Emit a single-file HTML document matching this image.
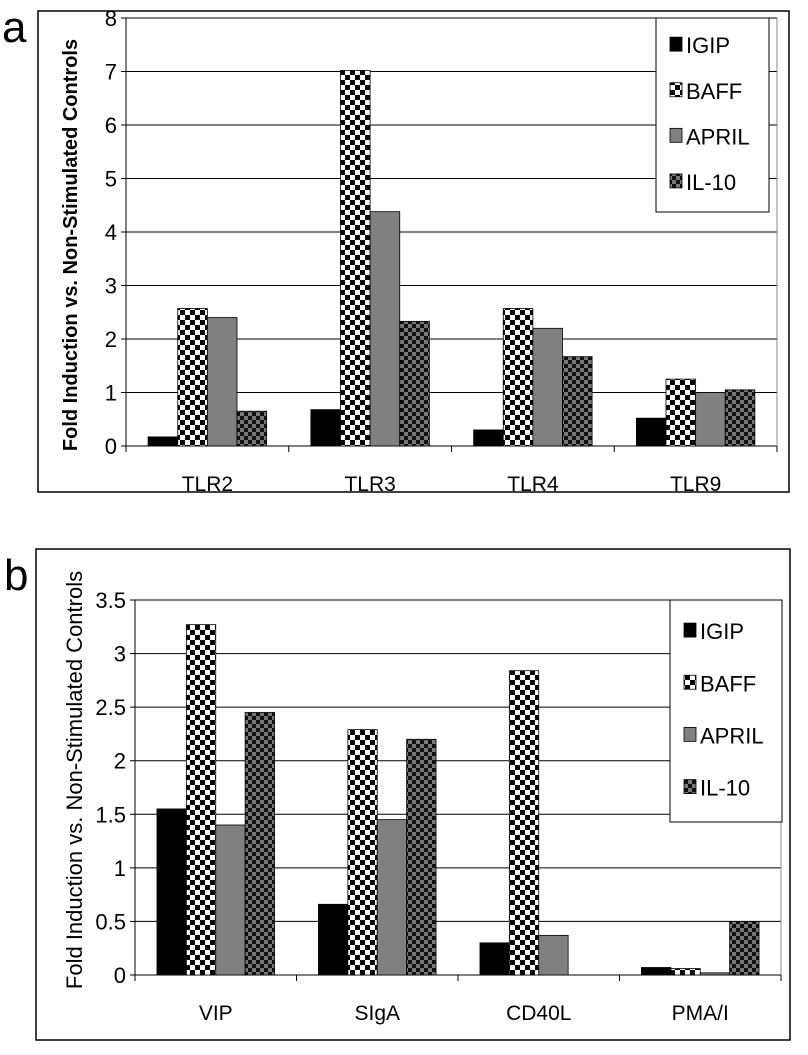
<!DOCTYPE html>
<html><head><meta charset="utf-8"><style>
body{margin:0;background:#fff;}
svg text{font-family:"Liberation Sans",Arial,sans-serif;fill:#000;}
</style></head><body>
<svg id="fig" width="808" height="1050" xmlns="http://www.w3.org/2000/svg">
<defs>
<pattern id="pBaff" width="10" height="10" patternUnits="userSpaceOnUse">
<rect width="10" height="10" fill="#fff"/><rect width="5" height="5" fill="#000"/><rect x="5" y="5" width="5" height="5" fill="#000"/>
</pattern>
<pattern id="pIl10" width="8" height="8" patternUnits="userSpaceOnUse">
<rect width="8" height="8" fill="#777"/><rect width="4" height="4" fill="#111"/><rect x="4" y="4" width="4" height="4" fill="#111"/>
</pattern>
</defs>
<g id="panelA"></g>
<g id="panelB"></g>
</svg>
<script>
const seriesNames=["IGIP","BAFF","APRIL","IL-10"];
const categoriesA=["TLR2","TLR3","TLR4","TLR9"];
const igipA=[0.17,0.68,0.3,0.52];
const baffA=[2.57,7.02,2.57,1.25];
const aprilA=[2.4,4.38,2.2,1.0];
const il10A=[0.65,2.33,1.67,1.05];
const ticksA=["0","1","2","3","4","5","6","7","8"];
const categoriesB=["VIP","SIgA","CD40L","PMA/I"];
const igipB=[1.55,0.66,0.3,0.07];
const baffB=[3.27,2.29,2.84,0.06];
const aprilB=[1.4,1.45,0.37,0.02];
const il10B=[2.45,2.2,0,0.5];
const ticksB=["0","0.5","1","1.5","2","2.5","3","3.5"];
const fills=["#000","url(#pBaff)","#808080","url(#pIl10)"];
const NS="http://www.w3.org/2000/svg";
function mk(p,t,a){const e=document.createElementNS(NS,t);for(const k in a)e.setAttribute(k,a[k]);p.appendChild(e);return e;}
function draw(g,o){
  const box=mk(g,"rect",{x:o.box[0],y:o.box[1],width:o.box[2],height:o.box[3],fill:"none",stroke:"#000","stroke-width":1.5});
  
  
  const lt=mk(g,"text",{x:o.letter[0],y:o.letter[1],"font-size":44});lt.textContent=o.letterText;
  
  
  const x0=o.x0,x1=o.x1,y0=o.y0,y1=o.y1,max=o.max;
  const Y=v=>y0-(v/max)*(y0-y1);
  const band=(x1-x0)/o.cats.length;
  const X=i=>x0+band*i;
  o.ticks.forEach(t=>{const v=parseFloat(t);const y=Y(v);
    if(v>0){const gl=mk(g,"line",{x1:x0,x2:x1,y1:y,y2:y,stroke:"#000","stroke-width":1});
      
      }
    mk(g,"line",{x1:x0-5,x2:x0,y1:y,y2:y,stroke:"#000"});
    const tx=mk(g,"text",{x:x0-9,y:y+8,"font-size":22,"text-anchor":"end"});tx.textContent=t;
    
    
  });
  mk(g,"line",{x1:x0,x2:x0,y1:y1,y2:y0,stroke:"#000"});
  mk(g,"line",{x1:x0,x2:x1,y1:y0,y2:y0,stroke:"#000"});
  mk(g,"line",{x1:x1,x2:x1,y1:y1,y2:y0,stroke:"#888"});
  for(let i=0;i<=o.cats.length;i++)mk(g,"line",{x1:X(i),x2:X(i),y1:y0,y2:y0+6,stroke:"#000"});
  const bw=band*0.182, gw=bw*4;
  o.cats.forEach((c,i)=>{
    const cx=X(i)+band/2;
    const lb=mk(g,"text",{x:cx,y:y0+45,"font-size":21,"text-anchor":"middle"});lb.textContent=c;
    
    
    o.series.forEach((s,j)=>{
      const v=s[i];const y=Y(v);
      const r=mk(g,"rect",{x:cx-gw/2+bw*j,y:y,width:bw,height:y0-y,fill:fills[j],stroke:"#000","stroke-width":0.8});
      
      
    });
  });
  const yt=mk(g,"text",{transform:`translate(${o.ylab[0]},${o.ylab[1]}) rotate(-90)`,"font-size":o.ylabSize,"text-anchor":"middle","font-weight":o.bold?"bold":"normal"});
  yt.textContent="Fold Induction vs. Non-Stimulated Controls";
  
  
  const L=o.legend;
  const lg=mk(g,"g",{});
  
  
  mk(lg,"rect",{x:L[0],y:L[1],width:L[2],height:L[3],fill:"#fff",stroke:"#000"});
  seriesNames.forEach((n,j)=>{
    const ey=L[1]+L[3]*(0.14+0.235*j);
    const sw=mk(lg,"rect",{x:L[0]+14,y:ey-8,width:12,height:14,fill:fills[j],stroke:"#000","stroke-width":0.8});
    
    
    const t=mk(lg,"text",{x:L[0]+30,y:ey+8,"font-size":22});t.textContent=n;
    
    
  });
}
draw(document.getElementById("panelA"),{box:[38,11,751,481],letter:[2,42],letterText:"a",x0:126,x1:777,y0:446,y1:18,max:8,
  cats:categoriesA,series:[igipA,baffA,aprilA,il10A],ticks:ticksA,ylab:[77,245],ylabSize:20,bold:true,legend:[656,18,113,194]});
draw(document.getElementById("panelB"),{box:[36,549,754,491],letter:[4,590],letterText:"b",x0:135,x1:781,y0:975,y1:600,max:3.5,
  cats:categoriesB,series:[igipB,baffB,aprilB,il10B],ticks:ticksB,ylab:[82,780],ylabSize:22,bold:false,legend:[670,600,112,222]});
</script>
</body></html>
